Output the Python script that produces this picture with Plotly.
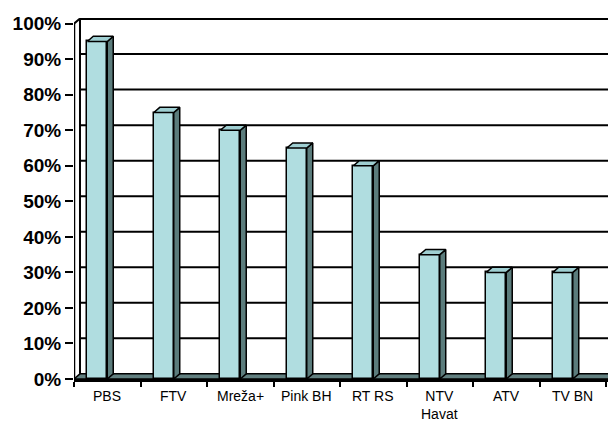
import plotly.graph_objects as go

categories = ["PBS", "FTV", "Mreža+", "Pink BH", "RT RS", "NTV<br>Havat", "ATV", "TV BN"]
values = [95, 75, 70, 65, 60, 35, 30, 30]
y_ticks = [0, 10, 20, 30, 40, 50, 60, 70, 80, 90, 100]
y_ticktext = [f"{v}%" for v in y_ticks]

FRONT = "#b0dde0"
SIDE = "#5b7c7c"
TOP = "#9fcfd2"
FLOOR = "#617f7f"

DX = 0.09      # depth offset in category units
DY = 1.45      # depth offset in % units
XMAX = 8.03
YMAX = 101.6
BAR_L = 0.2
BAR_W = 0.3

n = len(categories)
fig = go.Figure()

# front faces
fig.add_trace(go.Bar(
    x=[i + BAR_L for i in range(n)], y=values, width=BAR_W, offset=0,
    marker=dict(color=FRONT, line=dict(color="black", width=1.5)),
    hoverinfo="skip", showlegend=False,
))

# side and top faces
for i, v in enumerate(values):
    xr = i + BAR_L + BAR_W
    xl = i + BAR_L
    fig.add_trace(go.Scatter(
        x=[xr, xr + DX, xr + DX, xr, xr], y=[0, DY, v + DY, v, 0],
        mode="lines", fill="toself", fillcolor=SIDE,
        line=dict(color="black", width=1.5), hoverinfo="skip", showlegend=False,
    ))
    fig.add_trace(go.Scatter(
        x=[xl, xr, xr + DX, xl + DX, xl], y=[v, v, v + DY, v + DY, v],
        mode="lines", fill="toself", fillcolor=TOP,
        line=dict(color="black", width=1.5), hoverinfo="skip", showlegend=False,
    ))

shapes = []
# back-wall gridlines
for v in y_ticks[1:]:
    shapes.append(dict(type="line", xref="x", yref="y", x0=DX, x1=XMAX + 1,
                       y0=v + DY, y1=v + DY, layer="below",
                       line=dict(color="black", width=3 if v == 100 else 2)))
# floor
shapes.append(dict(type="path", xref="x", yref="y", layer="below",
                   path=f"M 0 0 L {XMAX + 1} 0 L {XMAX + 1 + DX} {DY} L {DX} {DY} Z",
                   fillcolor=FLOOR, line=dict(color="black", width=1.5)))
# left wall
shapes.append(dict(type="line", xref="x", yref="y", x0=DX, x1=DX, y0=DY, y1=100 + DY,
                   layer="below", line=dict(color="black", width=2)))
shapes.append(dict(type="line", xref="x", yref="y", x0=0, x1=DX, y0=100, y1=100 + DY,
                   layer="below", line=dict(color="black", width=2)))
shapes.append(dict(type="line", xref="x", yref="y", x0=0, x1=0, y0=0, y1=100,
                   layer="above", line=dict(color="black", width=2.5)))

annotations = []
for i, c in enumerate(categories):
    annotations.append(dict(x=i + 0.5, y=0, xref="x", yref="paper", text=c,
                            showarrow=False, yanchor="top", yshift=-7,
                            font=dict(family="Liberation Sans, Arial", size=14, color="black")))

fig.update_layout(
    width=608, height=421,
    margin=dict(l=74, r=0, t=18, b=42, autoexpand=False),
    paper_bgcolor="white", plot_bgcolor="white",
    bargap=0,
    shapes=shapes, annotations=annotations,
    xaxis=dict(range=[0, XMAX], tickvals=list(range(n + 1)), ticktext=[""] * (n + 1),
               ticks="outside", ticklen=5, tickwidth=2, tickcolor="black", automargin=False,
               showgrid=False, zeroline=False, showline=True, linecolor="black", linewidth=2.5),
    yaxis=dict(range=[0, YMAX], tickvals=y_ticks, ticktext=y_ticktext, automargin=False,
               ticks="outside", ticklen=8, tickwidth=2, tickcolor="black",
               showgrid=False, zeroline=False, showline=False,
               tickfont=dict(family="Liberation Sans, Arial", size=19, color="black", weight="bold")),
)

fig.write_html("out.html", config={"displayModeBar": False},
               post_script="document.body.style.margin='0';document.body.style.overflow='hidden';")
